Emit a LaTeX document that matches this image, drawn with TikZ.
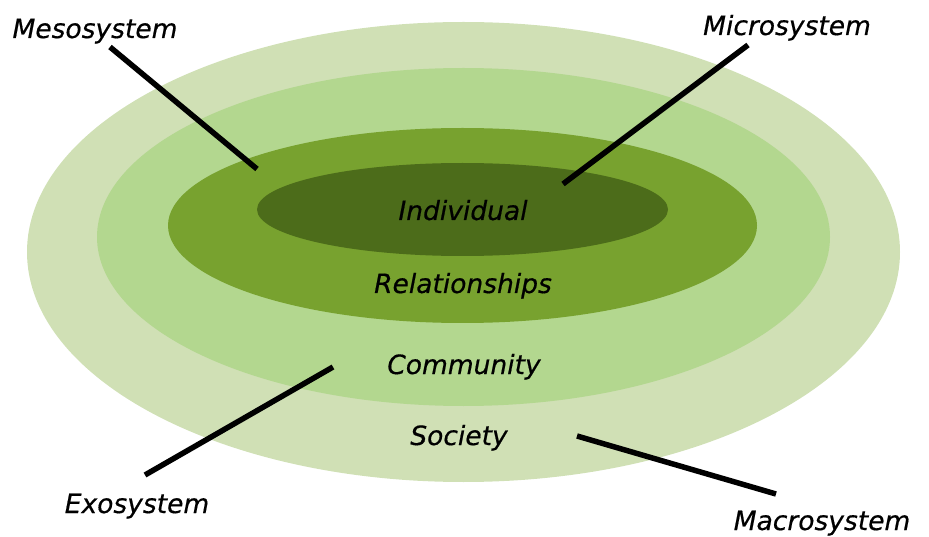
\documentclass[tikz,border=0pt]{standalone}
\usepackage{fontspec}
\setmainfont{DejaVu Sans}
\newfontface\lblface{DejaVu Sans Oblique}[FakeBold=0.5]
\usepackage{tikz}
\definecolor{society}{HTML}{D0E0B5}
\definecolor{community}{HTML}{B3D78F}
\definecolor{relation}{HTML}{78A22F}
\definecolor{individual}{HTML}{4C6C1A}
\tikzstyle{lbl} = [font=\fontsize{26.5}{30}\lblface, anchor=base, inner sep=0pt]
\tikzstyle{pointer} = [line width=5.5pt, black]

\begin{document}
\begin{tikzpicture}[x=1pt, y=-1pt]

        \useasboundingbox (0,0) rectangle (929,537);

        %% rings

        \fill[society] (463.5,252) ellipse [x radius=436.5, y radius=230];
        \fill[community] (463.5,237) ellipse [x radius=366.5, y radius=169];
        \fill[relation] (462.5,225.5) ellipse [x radius=294.5, y radius=97.5];
        \fill[individual] (462.5,209.5) ellipse [x radius=205.5, y radius=46.5];

        \node (indiv) [lbl] at (463,220) {Individual};
        \node (relat) [lbl] at (463,293) {Relationships};
        \node (commu) [lbl] at (464,374) {Community};
        \node (socie) [lbl] at (459,445) {Society};

        %% systems

        \node (meso) [lbl] at (95,38) {Mesosystem};
        \node (micro) [lbl] at (787,35) {Microsystem};
        \node (exo) [lbl] at (137,513) {Exosystem};
        \node (macro) [lbl] at (822,530) {Macrosystem};

        \coordinate (meso-a) at (110,47);
        \coordinate (meso-b) at (257,169);
        \coordinate (micro-a) at (748,45);
        \coordinate (micro-b) at (563,184);
        \coordinate (exo-a) at (145,475);
        \coordinate (exo-b) at (333,367);
        \coordinate (macro-a) at (577,436);
        \coordinate (macro-b) at (776,494);

        \draw[pointer] (meso-a) -- (meso-b);
        \draw[pointer] (micro-a) -- (micro-b);
        \draw[pointer] (exo-a) -- (exo-b);
        \draw[pointer] (macro-a) -- (macro-b);

    \end{tikzpicture}
\end{document}
